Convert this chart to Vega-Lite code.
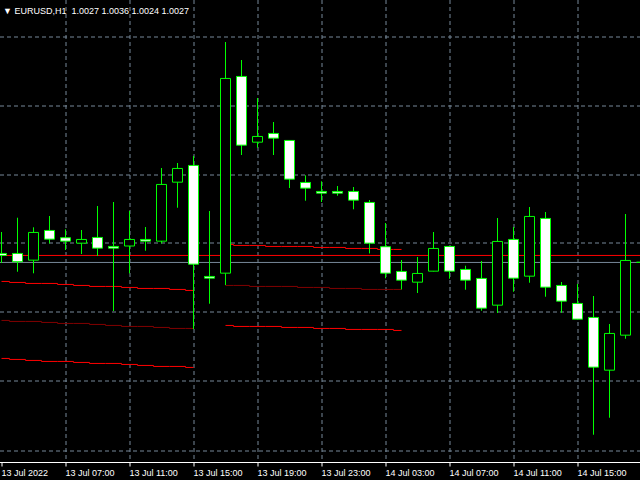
{
  "$schema": "https://vega.github.io/schema/vega-lite/v6.json",
  "width": 640,
  "height": 462,
  "padding": {"left": 0, "top": 0, "right": 0, "bottom": 18},
  "autosize": {"type": "none"},
  "background": "#000000",
  "config": {"view": {"stroke": null}, "font": "Liberation Sans"},
  "title": {
    "text": "▼ EURUSD,H1\u00a0 1.0027 1.0036 1.0024 1.0027",
    "anchor": "start", "frame": "group", "orient": "top", "offset": -23, "dx": 3,
    "font": "Liberation Sans", "fontSize": 9, "fontWeight": "normal", "color": "#FFFFFF", "baseline": "alphabetic"
  },
  "datasets": {
    "levels": [
      {"k": "ask", "p": 1.00318},
      {"k": "bid", "p": 1.00269}
    ],
    "ind": [
      {"s": "A", "t": "2022-07-13T03:00:00Z", "v": 1.00136},
      {"s": "A", "t": "2022-07-13T04:00:00Z", "v": 1.00129},
      {"s": "A", "t": "2022-07-13T05:00:00Z", "v": 1.00122},
      {"s": "A", "t": "2022-07-13T06:00:00Z", "v": 1.00122},
      {"s": "A", "t": "2022-07-13T07:00:00Z", "v": 1.00115},
      {"s": "A", "t": "2022-07-13T08:00:00Z", "v": 1.00108},
      {"s": "A", "t": "2022-07-13T09:00:00Z", "v": 1.00101},
      {"s": "A", "t": "2022-07-13T10:00:00Z", "v": 1.00101},
      {"s": "A", "t": "2022-07-13T11:00:00Z", "v": 1.00094},
      {"s": "A", "t": "2022-07-13T12:00:00Z", "v": 1.00087},
      {"s": "A", "t": "2022-07-13T13:00:00Z", "v": 1.00087},
      {"s": "A", "t": "2022-07-13T14:00:00Z", "v": 1.0008},
      {"s": "A", "t": "2022-07-13T15:00:00Z", "v": 1.00073},
      {"s": "B", "t": "2022-07-13T03:00:00Z", "v": 0.99863},
      {"s": "B", "t": "2022-07-13T04:00:00Z", "v": 0.99856},
      {"s": "B", "t": "2022-07-13T05:00:00Z", "v": 0.99856},
      {"s": "B", "t": "2022-07-13T06:00:00Z", "v": 0.99849},
      {"s": "B", "t": "2022-07-13T07:00:00Z", "v": 0.99842},
      {"s": "B", "t": "2022-07-13T08:00:00Z", "v": 0.99842},
      {"s": "B", "t": "2022-07-13T09:00:00Z", "v": 0.99835},
      {"s": "B", "t": "2022-07-13T10:00:00Z", "v": 0.99828},
      {"s": "B", "t": "2022-07-13T11:00:00Z", "v": 0.99821},
      {"s": "B", "t": "2022-07-13T12:00:00Z", "v": 0.99821},
      {"s": "B", "t": "2022-07-13T13:00:00Z", "v": 0.99814},
      {"s": "B", "t": "2022-07-13T14:00:00Z", "v": 0.99807},
      {"s": "B", "t": "2022-07-13T15:00:00Z", "v": 0.99807},
      {"s": "C", "t": "2022-07-13T03:00:00Z", "v": 0.99597},
      {"s": "C", "t": "2022-07-13T04:00:00Z", "v": 0.9959},
      {"s": "C", "t": "2022-07-13T05:00:00Z", "v": 0.99583},
      {"s": "C", "t": "2022-07-13T06:00:00Z", "v": 0.99576},
      {"s": "C", "t": "2022-07-13T07:00:00Z", "v": 0.99576},
      {"s": "C", "t": "2022-07-13T08:00:00Z", "v": 0.99569},
      {"s": "C", "t": "2022-07-13T09:00:00Z", "v": 0.99562},
      {"s": "C", "t": "2022-07-13T10:00:00Z", "v": 0.99562},
      {"s": "C", "t": "2022-07-13T11:00:00Z", "v": 0.99555},
      {"s": "C", "t": "2022-07-13T12:00:00Z", "v": 0.99548},
      {"s": "C", "t": "2022-07-13T13:00:00Z", "v": 0.99541},
      {"s": "C", "t": "2022-07-13T14:00:00Z", "v": 0.99541},
      {"s": "C", "t": "2022-07-13T15:00:00Z", "v": 0.99534},
      {"s": "F", "t": "2022-07-13T17:00:00Z", "v": 1.00395},
      {"s": "F", "t": "2022-07-13T18:00:00Z", "v": 1.00388},
      {"s": "F", "t": "2022-07-13T19:00:00Z", "v": 1.00388},
      {"s": "F", "t": "2022-07-13T20:00:00Z", "v": 1.00381},
      {"s": "F", "t": "2022-07-13T21:00:00Z", "v": 1.00381},
      {"s": "F", "t": "2022-07-13T22:00:00Z", "v": 1.00381},
      {"s": "F", "t": "2022-07-13T23:00:00Z", "v": 1.00374},
      {"s": "F", "t": "2022-07-14T00:00:00Z", "v": 1.00374},
      {"s": "F", "t": "2022-07-14T01:00:00Z", "v": 1.00367},
      {"s": "F", "t": "2022-07-14T02:00:00Z", "v": 1.00367},
      {"s": "F", "t": "2022-07-14T03:00:00Z", "v": 1.0036},
      {"s": "F", "t": "2022-07-14T04:00:00Z", "v": 1.0036},
      {"s": "D", "t": "2022-07-13T17:00:00Z", "v": 1.00108},
      {"s": "D", "t": "2022-07-13T18:00:00Z", "v": 1.00108},
      {"s": "D", "t": "2022-07-13T19:00:00Z", "v": 1.00101},
      {"s": "D", "t": "2022-07-13T20:00:00Z", "v": 1.00101},
      {"s": "D", "t": "2022-07-13T21:00:00Z", "v": 1.00101},
      {"s": "D", "t": "2022-07-13T22:00:00Z", "v": 1.00094},
      {"s": "D", "t": "2022-07-13T23:00:00Z", "v": 1.00094},
      {"s": "D", "t": "2022-07-14T00:00:00Z", "v": 1.00087},
      {"s": "D", "t": "2022-07-14T01:00:00Z", "v": 1.00087},
      {"s": "D", "t": "2022-07-14T02:00:00Z", "v": 1.0008},
      {"s": "D", "t": "2022-07-14T03:00:00Z", "v": 1.0008},
      {"s": "D", "t": "2022-07-14T04:00:00Z", "v": 1.0008},
      {"s": "E", "t": "2022-07-13T17:00:00Z", "v": 0.99828},
      {"s": "E", "t": "2022-07-13T18:00:00Z", "v": 0.99821},
      {"s": "E", "t": "2022-07-13T19:00:00Z", "v": 0.99821},
      {"s": "E", "t": "2022-07-13T20:00:00Z", "v": 0.99821},
      {"s": "E", "t": "2022-07-13T21:00:00Z", "v": 0.99814},
      {"s": "E", "t": "2022-07-13T22:00:00Z", "v": 0.99814},
      {"s": "E", "t": "2022-07-13T23:00:00Z", "v": 0.99807},
      {"s": "E", "t": "2022-07-14T00:00:00Z", "v": 0.99807},
      {"s": "E", "t": "2022-07-14T01:00:00Z", "v": 0.998},
      {"s": "E", "t": "2022-07-14T02:00:00Z", "v": 0.998},
      {"s": "E", "t": "2022-07-14T03:00:00Z", "v": 0.998},
      {"s": "E", "t": "2022-07-14T04:00:00Z", "v": 0.99793}
    ],
    "candles": [
      {"t": "2022-07-13T03:00:00Z", "o": 1.00332, "h": 1.00482, "l": 1.00265, "c": 1.00318},
      {"t": "2022-07-13T04:00:00Z", "o": 1.00332, "h": 1.00582, "l": 1.00204, "c": 1.00274},
      {"t": "2022-07-13T05:00:00Z", "o": 1.00285, "h": 1.00515, "l": 1.00193, "c": 1.00479},
      {"t": "2022-07-13T06:00:00Z", "o": 1.00493, "h": 1.00594, "l": 1.00402, "c": 1.00432},
      {"t": "2022-07-13T07:00:00Z", "o": 1.00442, "h": 1.00501, "l": 1.00356, "c": 1.00418},
      {"t": "2022-07-13T08:00:00Z", "o": 1.00404, "h": 1.00496, "l": 1.00328, "c": 1.0043},
      {"t": "2022-07-13T09:00:00Z", "o": 1.00444, "h": 1.00664, "l": 1.00314, "c": 1.00369},
      {"t": "2022-07-13T10:00:00Z", "o": 1.00381, "h": 1.00692, "l": 0.99929, "c": 1.00369},
      {"t": "2022-07-13T11:00:00Z", "o": 1.00384, "h": 1.00629, "l": 1.00193, "c": 1.0043},
      {"t": "2022-07-13T12:00:00Z", "o": 1.0043, "h": 1.00517, "l": 1.00351, "c": 1.00418},
      {"t": "2022-07-13T13:00:00Z", "o": 1.00418, "h": 1.0093, "l": 1.00402, "c": 1.00815},
      {"t": "2022-07-13T14:00:00Z", "o": 1.00831, "h": 1.00965, "l": 1.00652, "c": 1.00927},
      {"t": "2022-07-13T15:00:00Z", "o": 1.00948, "h": 1.01014, "l": 0.99803, "c": 1.00257},
      {"t": "2022-07-13T16:00:00Z", "o": 1.00171, "h": 1.00629, "l": 0.9998, "c": 1.00159},
      {"t": "2022-07-13T17:00:00Z", "o": 1.00194, "h": 1.01812, "l": 1.00111, "c": 1.01557},
      {"t": "2022-07-13T18:00:00Z", "o": 1.01571, "h": 1.01686, "l": 1.01021, "c": 1.0109},
      {"t": "2022-07-13T19:00:00Z", "o": 1.01111, "h": 1.0142, "l": 1.01072, "c": 1.01151},
      {"t": "2022-07-13T20:00:00Z", "o": 1.01172, "h": 1.01252, "l": 1.01021, "c": 1.01139},
      {"t": "2022-07-13T21:00:00Z", "o": 1.01123, "h": 1.01123, "l": 1.0079, "c": 1.00852},
      {"t": "2022-07-13T22:00:00Z", "o": 1.00829, "h": 1.00879, "l": 1.00701, "c": 1.00789},
      {"t": "2022-07-13T23:00:00Z", "o": 1.00766, "h": 1.00837, "l": 1.00692, "c": 1.00754},
      {"t": "2022-07-14T00:00:00Z", "o": 1.00766, "h": 1.00804, "l": 1.00736, "c": 1.00754},
      {"t": "2022-07-14T01:00:00Z", "o": 1.00766, "h": 1.00797, "l": 1.00641, "c": 1.00705},
      {"t": "2022-07-14T02:00:00Z", "o": 1.00689, "h": 1.00706, "l": 1.00332, "c": 1.00404},
      {"t": "2022-07-14T03:00:00Z", "o": 1.00379, "h": 1.00545, "l": 1.00158, "c": 1.00194},
      {"t": "2022-07-14T04:00:00Z", "o": 1.00206, "h": 1.00286, "l": 1.0008, "c": 1.00145},
      {"t": "2022-07-14T05:00:00Z", "o": 1.00131, "h": 1.00307, "l": 1.00055, "c": 1.00192},
      {"t": "2022-07-14T06:00:00Z", "o": 1.00208, "h": 1.00482, "l": 1.00206, "c": 1.00367},
      {"t": "2022-07-14T07:00:00Z", "o": 1.00381, "h": 1.00381, "l": 1.00155, "c": 1.00208},
      {"t": "2022-07-14T08:00:00Z", "o": 1.0022, "h": 1.00246, "l": 1.00078, "c": 1.00145},
      {"t": "2022-07-14T09:00:00Z", "o": 1.00157, "h": 1.00279, "l": 0.99931, "c": 0.99949},
      {"t": "2022-07-14T10:00:00Z", "o": 0.9997, "h": 1.0058, "l": 0.99915, "c": 1.00416},
      {"t": "2022-07-14T11:00:00Z", "o": 1.0043, "h": 1.00517, "l": 1.00064, "c": 1.00159},
      {"t": "2022-07-14T12:00:00Z", "o": 1.00173, "h": 1.00657, "l": 1.00127, "c": 1.00591},
      {"t": "2022-07-14T13:00:00Z", "o": 1.00577, "h": 1.00622, "l": 1.00029, "c": 1.00096},
      {"t": "2022-07-14T14:00:00Z", "o": 1.00108, "h": 1.00132, "l": 0.99917, "c": 0.99998},
      {"t": "2022-07-14T15:00:00Z", "o": 0.99982, "h": 1.00118, "l": 0.9987, "c": 0.99872},
      {"t": "2022-07-14T16:00:00Z", "o": 0.99884, "h": 1.00034, "l": 0.99063, "c": 0.99536},
      {"t": "2022-07-14T17:00:00Z", "o": 0.99515, "h": 0.99838, "l": 0.99182, "c": 0.99772},
      {"t": "2022-07-14T18:00:00Z", "o": 0.9976, "h": 1.00608, "l": 0.99735, "c": 1.00283},
      {"t": "2022-07-14T19:00:00Z", "o": 1.0027, "h": 1.0036, "l": 1.0024, "c": 1.0027}
    ]
  },
  "resolve": {"scale": {"color": "independent"}},
  "layer": [
    {
      "data": {"name": "levels"},
      "mark": {"type": "rule", "strokeWidth": 1},
      "encoding": {
        "y": {
          "field": "p", "type": "quantitative",
          "scale": {"domain": [0.988721, 1.021061], "zero": false, "nice": false, "padding": 0},
          "axis": {
            "values": [1.01844, 1.01606, 1.01361, 1.01123, 1.00878, 1.0064, 1.00402, 1.00157, 0.99919, 0.99674, 0.99436, 0.99191, 0.98946],
            "grid": true, "gridColor": "#778899", "gridDash": [4, 3], "gridWidth": 1,
            "labels": false, "ticks": false, "domain": false, "title": null, "translate": 0
          }
        },
        "color": {"field": "k", "type": "nominal", "scale": {"domain": ["ask", "bid"], "range": ["#FF0000", "#778899"]}, "legend": null}
      }
    },
    {
      "data": {"name": "ind"},
      "mark": {"type": "line", "interpolate": "step", "strokeWidth": 1, "clip": true},
      "encoding": {
        "x": {
          "field": "t", "type": "temporal",
          "scale": {"type": "utc", "domain": [1657680862500, 1657824862500], "nice": false, "padding": 0},
          "axis": {
            "values": [1657681200000, 1657688400000, 1657695600000, 1657702800000, 1657710000000, 1657717200000, 1657724400000, 1657731600000, 1657738800000, 1657746000000, 1657753200000, 1657760400000, 1657767600000, 1657774800000, 1657782000000, 1657789200000, 1657796400000, 1657803600000, 1657810800000, 1657818000000],
            "orient": "bottom", "translate": 0, "offset": 0.5,
            "grid": true, "gridColor": "#778899", "gridDash": [4, 3], "gridWidth": 1,
            "gridOpacity": {"condition": {"test": "datum.value < 1657681300000", "value": 0}, "value": 1},
            "domain": true, "domainColor": "#FFFFFF", "domainWidth": 1,
            "ticks": true, "tickColor": "#FFFFFF", "tickSize": 4, "tickWidth": 1,
            "tickOpacity": {"condition": {"test": "utchours(datum.value) % 4 == 3", "value": 1}, "value": 0},
            "labelExpr": "utchours(datum.value) % 4 != 3 ? '' : ((utcdate(datum.value) == 13 && utchours(datum.value) == 3) ? '13 Jul 2022' : utcFormat(datum.value, '%d %b %H:%M'))",
            "labelAlign": "left", "labelBaseline": "top", "labelPadding": 2,
            "labelColor": "#FFFFFF", "labelFont": "Liberation Sans", "labelFontSize": 9,
            "labelOverlap": false, "labelFlush": false, "labelBound": false, "title": null
          }
        },
        "y": {"field": "v", "type": "quantitative"},
        "color": {"field": "s", "type": "nominal", "scale": {"domain": ["A", "B", "C", "D", "E", "F"], "range": ["#FF0000", "#800000", "#FF0000", "#800000", "#FF0000", "#FF0000"]}, "legend": null}
      }
    },
    {
      "data": {"name": "candles"},
      "mark": {"type": "rule", "color": "#00FF00", "strokeWidth": 1, "clip": true},
      "encoding": {
        "x": {"field": "t", "type": "temporal"},
        "y": {"field": "l", "type": "quantitative"},
        "y2": {"field": "h"}
      }
    },
    {
      "data": {"name": "candles"},
      "mark": {"type": "bar", "size": 10, "stroke": "#00FF00", "strokeWidth": 1, "opacity": 1, "clip": true},
      "encoding": {
        "x": {"field": "t", "type": "temporal"},
        "y": {"field": "o", "type": "quantitative"},
        "y2": {"field": "c"},
        "fill": {"condition": {"test": "datum.o > datum.c", "value": "#FFFFFF"}, "value": "#000000"}
      }
    }
  ]
}
